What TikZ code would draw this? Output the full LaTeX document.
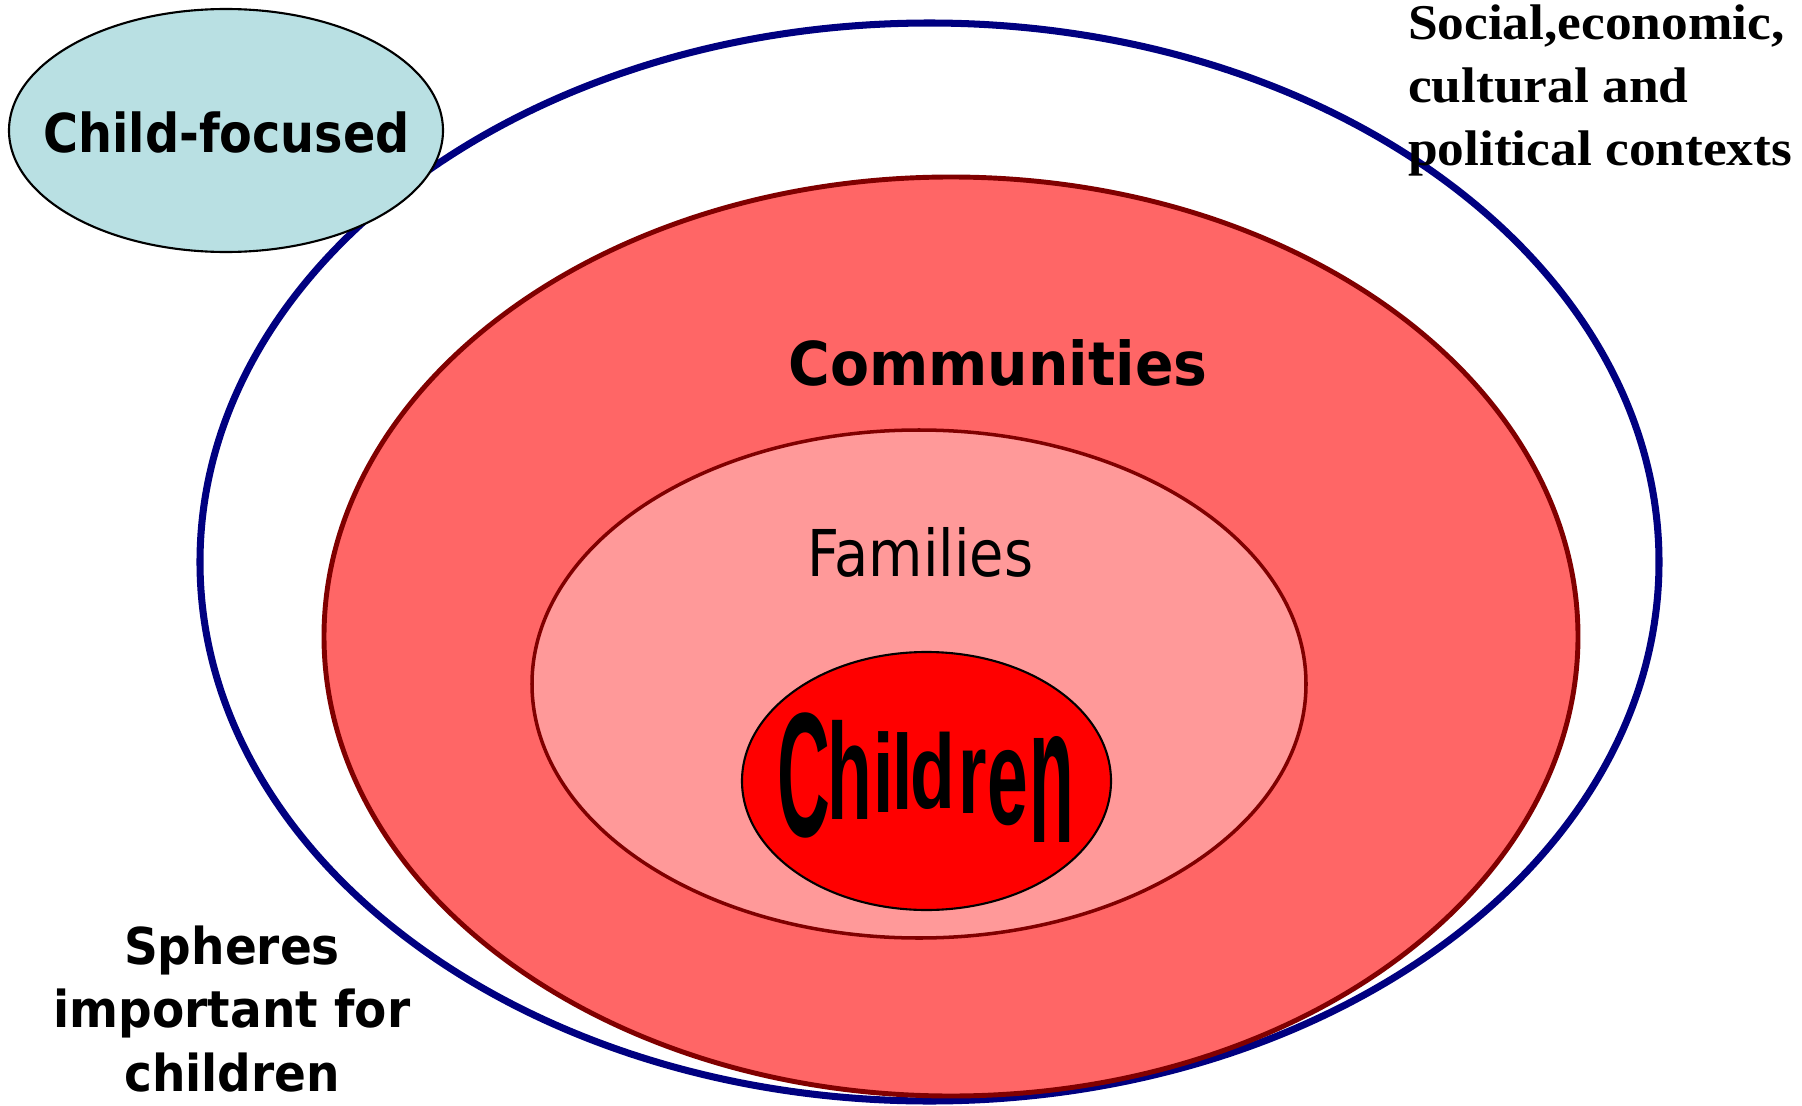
\documentclass[tikz,border=0pt]{standalone}
\usepackage{fontspec}
\setmainfont{DejaVu Sans}
\newfontfamily\serifb{Liberation Serif}
\newfontfamily\arialf{Liberation Sans}
\definecolor{navyc}{RGB}{0,0,128}
\definecolor{maroonc}{RGB}{128,0,0}
\definecolor{commfill}{RGB}{255,102,102}
\definecolor{famfill}{RGB}{255,153,153}
\definecolor{childfill}{RGB}{255,0,0}
\definecolor{cyanfill}{RGB}{185,224,227}
\tikzset{
  lbl/.style={inner sep=0pt, outer sep=0pt, text=black},
  chl/.style={anchor=base, inner sep=0pt, text=black, font=\arialf\bfseries\fontsize{40}{40}\selectfont},
}
\begin{document}
\begin{tikzpicture}[x=0.01cm,y=-0.01cm]
\useasboundingbox (0,0) rectangle (1802,1106);
\fill[white] (0,0) rectangle (1802,1106);
% outer context sphere
\draw[navyc, line width=2pt] (929.5,562) ellipse [x radius=729.5, y radius=539];
% communities
\draw[maroonc, fill=commfill, line width=1.4pt] (951,636.5) ellipse [x radius=627, y radius=459.5];
% families
\draw[maroonc, fill=famfill, line width=1pt] (919,684) ellipse [x radius=387, y radius=254];
% children
\draw[black, fill=childfill, line width=0.6pt] (926.5,781) ellipse [x radius=184.5, y radius=129];
% child-focused
\draw[black, fill=cyanfill, line width=0.6pt] (226,130.5) ellipse [x radius=217, y radius=121.5];

% texts
\node[lbl, anchor=base] (cf) at (226.5,152) {\fontsize{15.25}{18}\selectfont\bfseries\scalebox{0.89}[1]{Child-focused}};
\node[lbl, anchor=base] (comm) at (998,385) {\fontsize{17.2}{20}\selectfont\bfseries\scalebox{0.94}[1]{Communities}};
\node[lbl, anchor=base] (fam) at (920.5,576) {\fontsize{18.35}{22}\selectfont\scalebox{0.865}[1]{Families}};
\node[lbl, anchor=base] (sph) at (232,964) {\fontsize{14.45}{18.07}\selectfont\bfseries\scalebox{0.925}[1]{\begin{tabular}[t]{@{}c@{}}Spheres\\important for\\children\end{tabular}}};
\node[lbl, anchor=base west] (ctx) at (1408,40) {\serifb\fontsize{14.23}{17.9}\selectfont\bfseries\scalebox{1.067}[1]{\begin{tabular}[t]{@{}l@{}}Social,economic,\\cultural and\\political contexts\end{tabular}}};

% warped "Children"
\node[chl] (ch1) at (804,836) {\scalebox{0.52}[1.26]{C}};
\node[chl] (ch2) at (849.5,819) {\scalebox{0.52}[0.973]{h}};
\node[chl] (ch3) at (883.5,812) {\scalebox{0.52}[0.794]{i}};
\node[chl] (ch4) at (902.5,809) {\scalebox{0.52}[0.755]{l}};
\node[chl] (ch5) at (933,808) {\scalebox{0.52}[0.75]{d}};
\node[chl] (ch6) at (973,813) {\scalebox{0.52}[0.84]{r}};
\node[chl] (ch7) at (1008,824) {\scalebox{0.52}[0.98]{e}};
\node[chl] (ch8) at (1051.5,842) {\scalebox{0.52}[1.4]{n}};
\end{tikzpicture}
\end{document}
